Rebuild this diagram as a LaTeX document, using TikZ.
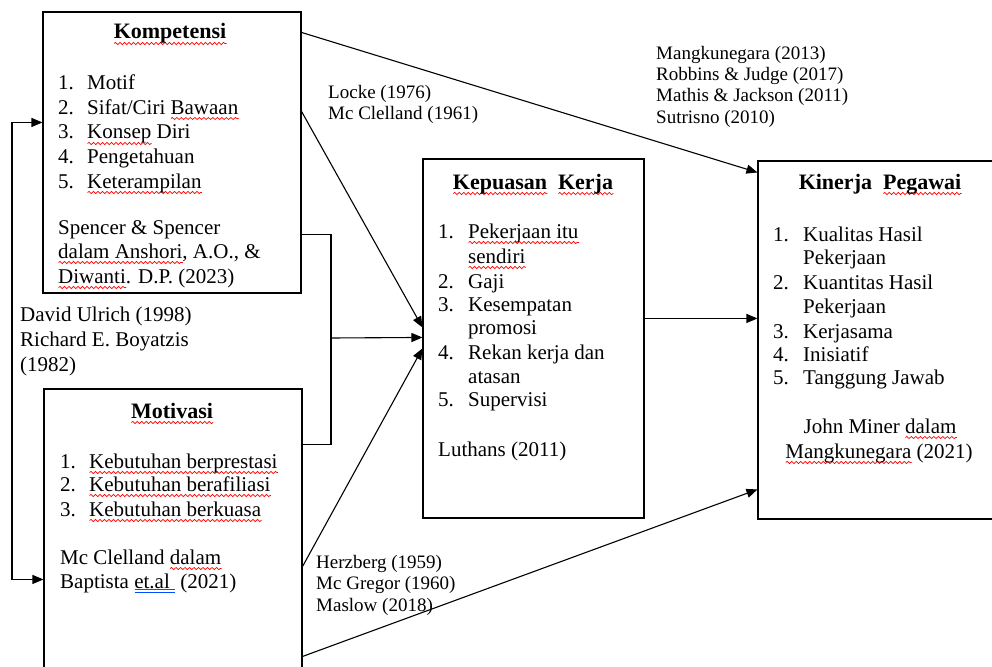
\documentclass[tikz,border=0pt]{standalone}
\usepackage{fontspec}
\setmainfont{Liberation Serif}
\usetikzlibrary{arrows.meta,calc,decorations.pathmorphing}
\newlength\rwlen
\newcommand\rw[1]{\settowidth\rwlen{#1}\leavevmode\rlap{\tikz[baseline=0pt]\draw[red,line width=0.7pt,decorate,decoration={snake,amplitude=1.1pt,segment length=4.5pt}] (0pt,-4.5pt) -- (\rwlen,-4.5pt);}#1}
\newcommand\bu[1]{\settowidth\rwlen{#1}\leavevmode\rlap{\tikz[baseline=0pt]{\draw[blue!70!cyan,line width=0.8pt] (0pt,-1.5pt) -- (\rwlen,-1.5pt) (0pt,-4pt) -- (\rwlen,-4pt);}}#1}
\tikzset{
  box/.style={draw, line width=1.1pt, rectangle, inner sep=0pt},
  txt/.style={inner sep=0pt, anchor=base west, font=\fontsize{21}{24}\selectfont},
  lbl/.style={inner sep=0pt, anchor=base west, font=\fontsize{19}{21}\selectfont},
  ctr/.style={inner sep=0pt, anchor=base, font=\fontsize{21}{24}\selectfont},
  ttl/.style={inner sep=0pt, anchor=base, font=\fontsize{22}{24}\selectfont\bfseries},
  conn/.style={line width=1.1pt},
  arr/.style={line width=1.1pt, -{Triangle[length=11pt,width=9pt]}},
  dblarr/.style={line width=1.1pt, {Triangle[length=11pt,width=9pt]}-{Triangle[length=11pt,width=9pt]}}
}
\begin{document}
\begin{tikzpicture}[x=1pt,y=-1pt]
\useasboundingbox (0,0) rectangle (992,666);
\clip (0,0) rectangle (992,666);
% boxes
\node[box, minimum width=258pt, minimum height=281pt] (komp) at (172,152.5) {};
\node[box, minimum width=258pt, minimum height=331pt] (moti) at (173,554.5) {};
\node[box, minimum width=221pt, minimum height=359pt] (kepu) at (533.5,338.5) {};
\node[box, minimum width=244pt, minimum height=358pt] (kine) at (880,340) {};
% Kompetensi text
\node[ttl] (kt) at (170,39) {\rw{Kompetensi}};
\node[txt] (kn1) at (58,90) {1.};  \node[txt] (ki1) at (87,90) {Motif};
\node[txt] (kn2) at (58,114) {2.}; \node[txt] (ki2) at (87,114) {Sifat/Ciri \rw{Bawaan}};
\node[txt] (kn3) at (58,139) {3.}; \node[txt] (ki3) at (87,139) {\rw{Konsep} Diri};
\node[txt] (kn4) at (58,163) {4.}; \node[txt] (ki4) at (87,163) {Pengetahuan};
\node[txt] (kn5) at (58,188) {5.}; \node[txt] (ki5) at (87,188) {\rw{Keterampilan}};
\node[txt] (ks1) at (58,234) {Spencer \& Spencer};
\node[txt] (ks2) at (58,258) {\rw{dalam Anshori}, A.O., \&};
\node[txt] (ks3) at (58,283) {\rw{Diwanti}. D.P. (2023)};
% Motivasi text
\node[ttl] (mt) at (172,418) {\rw{Motivasi}};
\node[txt] (mn1) at (60,468) {1.}; \node[txt] (mi1) at (89,468) {\rw{Kebutuhan berprestasi}};
\node[txt] (mn2) at (60,491) {2.}; \node[txt] (mi2) at (89,491) {\rw{Kebutuhan berafiliasi}};
\node[txt] (mn3) at (60,516) {3.}; \node[txt] (mi3) at (89,516) {\rw{Kebutuhan berkuasa}};
\node[txt] (ms1) at (60,564) {Mc Clelland \rw{dalam}};
\node[txt] (ms2) at (60,588) {Baptista \bu{et.al\ }\ (2021)};
% Kepuasan Kerja text
\node[ttl] (pt) at (533,189) {\rw{Kepuasan}\ \ \rw{Kerja}};
\node[txt] (pn1) at (438,238) {1.}; \node[txt] (pi1) at (468,238) {\rw{Pekerjaan itu}};
\node[txt] (pi1b) at (468,263) {\rw{sendiri}};
\node[txt] (pn2) at (438,288) {2.}; \node[txt] (pi2) at (468,288) {Gaji};
\node[txt] (pn3) at (438,311) {3.}; \node[txt] (pi3) at (468,311) {Kesempatan};
\node[txt] (pi3b) at (468,334) {promosi};
\node[txt] (pn4) at (438,359) {4.}; \node[txt] (pi4) at (468,359) {Rekan kerja dan};
\node[txt] (pi4b) at (468,383) {atasan};
\node[txt] (pn5) at (438,406) {5.}; \node[txt] (pi5) at (468,406) {Supervisi};
\node[txt] (ps1) at (438,456) {Luthans (2011)};
% Kinerja Pegawai text
\node[ttl] (jt) at (880,189) {Kinerja\ \ \rw{Pegawai}};
\node[txt] (jn1) at (773,241) {1.}; \node[txt] (ji1) at (803,241) {Kualitas Hasil};
\node[txt] (ji1b) at (803,264) {Pekerjaan};
\node[txt] (jn2) at (773,289) {2.}; \node[txt] (ji2) at (803,289) {Kuantitas Hasil};
\node[txt] (ji2b) at (803,313) {Pekerjaan};
\node[txt] (jn3) at (773,338) {3.}; \node[txt] (ji3) at (803,338) {Kerjasama};
\node[txt] (jn4) at (773,361) {4.}; \node[txt] (ji4) at (803,361) {Inisiatif};
\node[txt] (jn5) at (773,384) {5.}; \node[txt] (ji5) at (803,384) {Tanggung Jawab};
\node[ctr] (js1) at (880,433) {John Miner \rw{dalam}};
\node[ctr] (js2) at (879,458) {\rw{Mangkunegara} (2021)};
% free labels
\node[lbl] (la1) at (328,99) {Locke (1976)};
\node[lbl] (la2) at (328,119) {Mc Clelland (1961)};
\node[lbl] (lb1) at (656,60) {Mangkunegara (2013)};
\node[lbl] (lb2) at (656,81) {Robbins \& Judge (2017)};
\node[lbl] (lb3) at (656,102) {Mathis \& Jackson (2011)};
\node[lbl] (lb4) at (656,124) {Sutrisno (2010)};
\node[txt] (lc1) at (20,321) {David Ulrich (1998)};
\node[txt] (lc2) at (20,346) {Richard E. Boyatzis};
\node[txt] (lc3) at (20,371) {(1982)};
\node[lbl] (ld1) at (316,568) {Herzberg (1959)};
\node[lbl] (ld2) at (316,589) {Mc Gregor (1960)};
\node[lbl] (ld3) at (316,611) {Maslow (2018)};
% helper coordinates
\coordinate (brk) at (331,338);
\coordinate (lp) at (12,350);
% connectors
\draw[arr] ($(komp.north east)+(0,21)$) -- ($(kine.north west)+(0,12)$);
\draw[arr] ($(komp.north east)+(0,100)$) -- ($(kepu.north west)+(0,169)$);
\draw[conn] ($(komp.north east)+(0,223)$) -| (brk) |- ($(moti.north east)+(0,56)$);
\draw[arr] (brk) -- ($(kepu.north west)+(0,179)$);
\draw[arr] ($(moti.north east)+(0,178)$) -- ($(kepu.north west)+(0,190)$);
\draw[arr] ($(moti.north east)+(0,268)$) -- ($(kine.north west)+(0,329)$);
\draw[arr] ($(kepu.north east)+(0,160)$) -- ($(kine.north west)+(0,158)$);
\draw[dblarr] ($(komp.north west)+(0,111)$) -| (lp) |- ($(moti.north west)+(0,191)$);
\end{tikzpicture}
\end{document}
